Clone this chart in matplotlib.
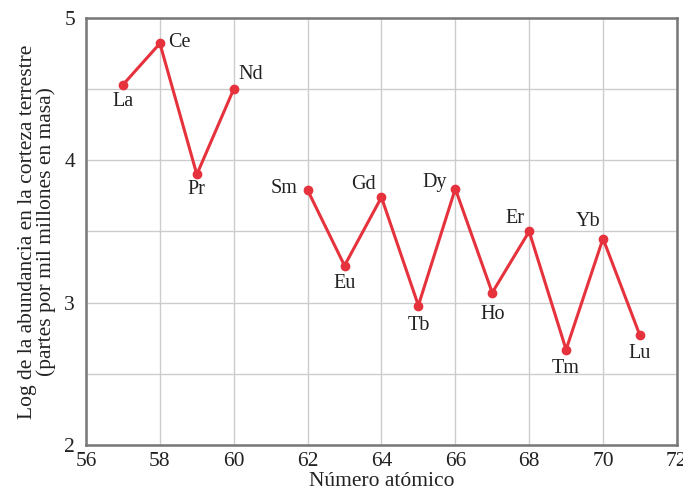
import matplotlib
matplotlib.use("Agg")
import matplotlib.pyplot as plt

# Lanthanides: atomic number vs log abundance in Earth's crust (no Pm)
elements = ["La", "Ce", "Pr", "Nd", "Sm", "Eu", "Gd", "Tb",
            "Dy", "Ho", "Er", "Tm", "Yb", "Lu"]
atomic_number = [57, 58, 59, 60, 62, 63, 64, 65, 66, 67, 68, 69, 70, 71]
log_abundance = [4.53, 4.82, 3.90, 4.50, 3.79, 3.26, 3.74, 2.98,
                 3.80, 3.07, 3.50, 2.67, 3.45, 2.77]

# label placement (pixel offset, horizontal alignment)
label_pos = {
    "La": ((0, -17), "center"), "Ce": ((8, 1), "left"),
    "Pr": ((0, -15), "center"), "Nd": ((5, 15), "left"),
    "Sm": ((-10, 2), "right"), "Eu": ((0, -18), "center"),
    "Gd": ((-6, 13), "right"), "Tb": ((0, -20), "center"),
    "Dy": ((-8, 6), "right"), "Ho": ((0, -22), "center"),
    "Er": ((-5, 13), "right"), "Tm": ((0, -19), "center"),
    "Yb": ((-3, 17), "right"), "Lu": ((0, -18), "center"),
}

plt.rcParams.update({
    "font.family": ["Liberation Serif", "DejaVu Serif"],
    "font.size": 13,
})

red = "#e5323c"
text_c = "#222222"
fig = plt.figure(figsize=(6.83, 4.94), dpi=100)
ax = fig.add_axes([0.126, 0.099, 0.865, 0.865])

# split the series where an atomic number is missing (Pm)
runs = [[0]]
for i in range(1, len(atomic_number)):
    if atomic_number[i] - atomic_number[i - 1] > 1:
        runs.append([])
    runs[-1].append(i)
for run in runs:
    ax.plot([atomic_number[i] for i in run], [log_abundance[i] for i in run],
            color=red, linewidth=2.2, marker="o", markersize=6, zorder=3)

for el, x, y in zip(elements, atomic_number, log_abundance):
    (dx, dy), ha = label_pos[el]
    ax.annotate(el, (x, y), xytext=(dx, dy), textcoords="offset pixels",
                ha=ha, va="center", fontsize=14.5, color=text_c)

ax.set_xlim(56, 72)
ax.set_ylim(2, 5)
ax.set_xticks(range(56, 73, 2))
ax.set_yticks([2, 3, 4, 5])
ax.set_yticks([2.5, 3.5, 4.5], minor=True)
ax.grid(True, which="both", color="#cccccc", linewidth=1.0)
ax.set_axisbelow(True)
ax.tick_params(which="both", length=0, labelsize=15.5, colors=text_c)
ax.tick_params(axis="x", pad=5)
ax.tick_params(axis="y", pad=8)
for s in ax.spines.values():
    s.set_color("#777777")
    s.set_linewidth(1.8)

ax.set_xlabel("Número atómico", fontsize=15.5, color=text_c, labelpad=1)
ax.set_ylabel("Log de la abundancia en la corteza terrestre\n"
              "(partes por mil millones en masa)", fontsize=15.5,
              color=text_c, labelpad=6, linespacing=0.95)

fig.savefig("out.png", dpi=100)
